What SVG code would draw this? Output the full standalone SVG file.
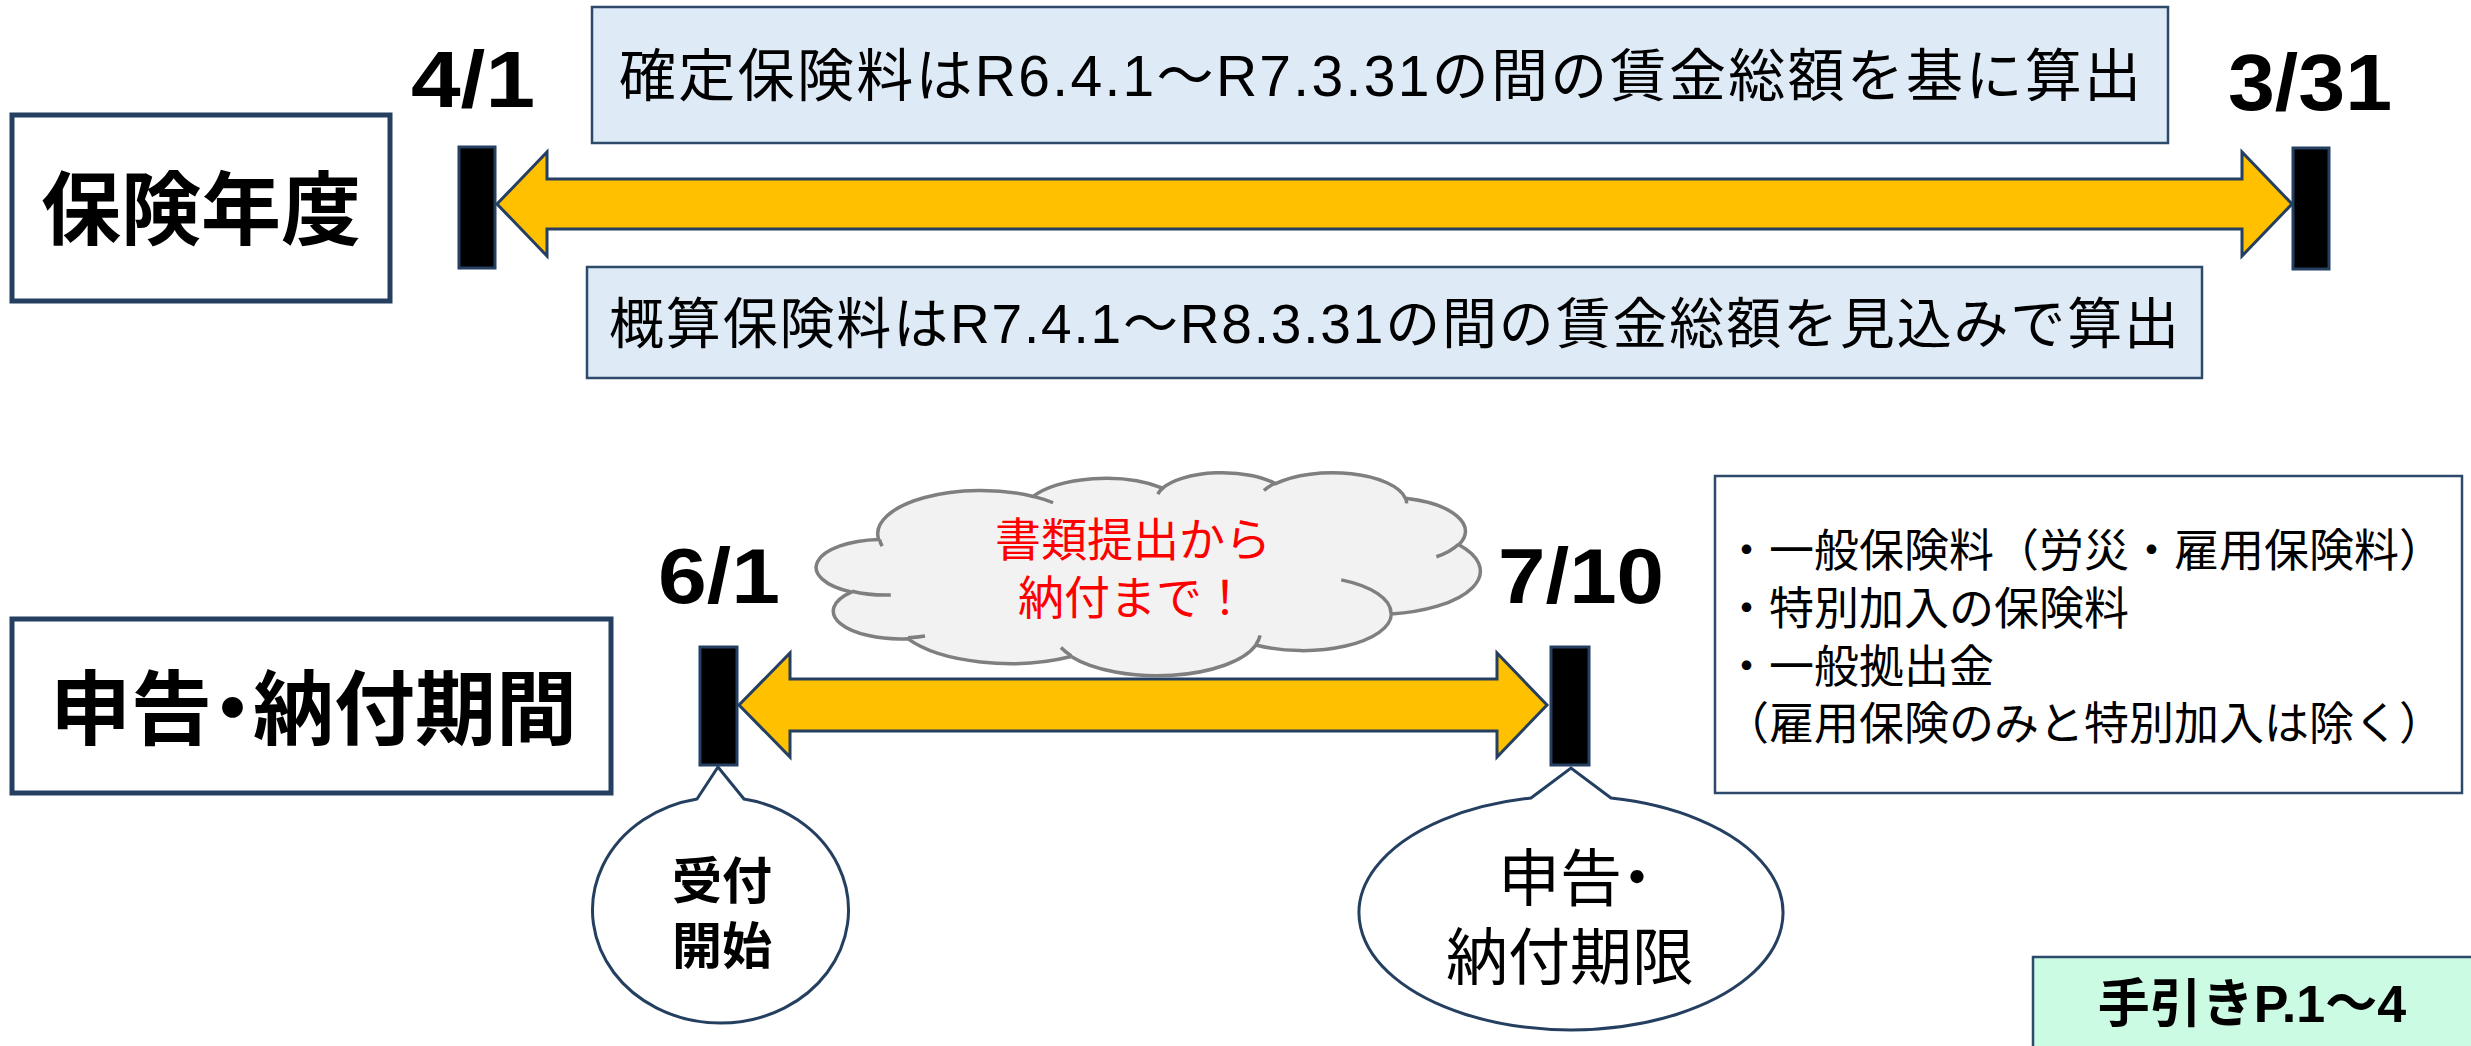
<svg xmlns="http://www.w3.org/2000/svg" width="2471" height="1046" viewBox="0 0 2471 1046">
<style>
.t{font-family:'Liberation Sans','Noto Sans CJK JP',sans-serif;fill:#000}
.title{font-family:'Noto Sans CJK JP',sans-serif;font-weight:bold;text-anchor:middle;fill:#000}
.date{font-family:'Liberation Sans','Noto Sans CJK JP',sans-serif;font-weight:bold;font-size:80px;text-anchor:middle;fill:#000}
.frame{fill:#fff;stroke:#243F60;stroke-width:5}
.note{fill:#DEEBF7;stroke:#2E4A6B;stroke-width:2.5}
.bar{fill:#000;stroke:#243F60;stroke-width:3}
.arrow{fill:#FFC000;stroke:#243F60;stroke-width:3;stroke-linejoin:miter}
.bubble{fill:#fff;stroke:#243F60;stroke-width:3}
.cloud{fill:#F2F2F2;stroke:#7F7F7F;stroke-width:3.5}
.cloudin{fill:none;stroke:#7F7F7F;stroke-width:3.5}
</style>
<rect x="0" y="0" width="2471" height="1046" fill="#fff"/>

<g id="connectors">
  <polygon class="arrow" points="497,204 547,152 547,179 2242,179 2242,152 2292,204 2242,256 2242,229 547,229 547,256"/>
  <polygon class="arrow" points="739,705 790,653 790,679 1497,679 1497,653 1547,705 1497,757 1497,731 790,731 790,757"/>
</g>

<g id="node-hokennendo">
  <rect class="frame" x="12" y="115" width="378" height="186"/>
  <text class="title" x="201" y="238" font-size="80">保険年度</text>
</g>

<g id="node-kakutei">
  <rect class="note" x="592" y="7" width="1576" height="136"/>
  <text class="t" x="619" y="96" font-size="57" textLength="1522">確定保険料はR6.4.1～R7.3.31の間の賃金総額を基に算出</text>
</g>

<g id="node-gaisan">
  <rect class="note" x="587" y="267" width="1615" height="111"/>
  <text class="t" x="609" y="343" font-size="55" textLength="1570">概算保険料はR7.4.1～R8.3.31の間の賃金総額を見込みで算出</text>
</g>

<g id="node-start-top">
  <text class="date" x="473" y="107" textLength="124" lengthAdjust="spacingAndGlyphs">4/1</text>
  <rect class="bar" x="459" y="147" width="36" height="121"/>
</g>

<g id="node-end-top">
  <text class="date" x="2310" y="110" textLength="164" lengthAdjust="spacingAndGlyphs">3/31</text>
  <rect class="bar" x="2293" y="148" width="36" height="121"/>
</g>

<g id="node-shinkoku">
  <rect class="frame" x="12" y="619" width="599" height="174"/>
  <text class="title" style="text-anchor:start" x="50 131 192 253 334 415 496" y="738" font-size="81">申告・納付期間</text>
</g>

<g id="node-cloud">
  <g transform="translate(819,472) scale(0.015301,0.004699)">
    <path class="cloud" vector-effect="non-scaling-stroke" d="M3900,14370 A6753,9190 0 0 1 14005,5202 A5333,7267 0 0 1 22458,3434 A4365,5945 0 0 1 29835,2485 A4857,6595 0 0 1 38319,5583 A5333,7273 0 0 1 41819,15466 A6775,9220 0 0 1 37405,30209 A5785,7867 0 0 1 28556,36819 A6752,9215 0 0 1 16479,39266 A7720,10543 0 0 1 5802,35472 A4360,5918 0 0 1 2111,25549 A4345,5945 0 0 1 3900,14370 Z"/>
    <path class="cloudin" vector-effect="non-scaling-stroke" d="M4693,26177 A4345,5945 0 0 1 2160,25379 M6928,34899 A4360,5918 0 0 1 5819,35281 M16478,39090 A6752,9215 0 0 1 15812,37354 M28827,34751 A6752,9215 0 0 1 28560,36660 M34129,22954 A5785,7867 0 0 1 37381,30090 M41798,15354 A5333,7273 0 0 1 40349,18031 M38324,5426 A4857,6595 0 0 1 38400,6690 M29078,3952 A4857,6595 0 0 1 29822,2337 M22141,4720 A4365,5945 0 0 1 22501,3329 M14000,5192 A6753,9190 0 0 1 15302,6543 M4127,15789 A6753,9190 0 0 1 3964,14379"/>
  </g>
  <text class="t" x="1133" y="556" font-size="46" text-anchor="middle" style="fill:#FF0000">書類提出から</text>
  <text class="t" x="1133" y="614" font-size="46" text-anchor="middle" style="fill:#FF0000">納付まで！</text>
</g>

<g id="node-start-bottom">
  <text class="date" x="719" y="603" style="font-size:78px" textLength="122" lengthAdjust="spacingAndGlyphs">6/1</text>
  <rect class="bar" x="700" y="647" width="37" height="118"/>
</g>

<g id="node-end-bottom">
  <text class="date" x="1581" y="603" style="font-size:78px" textLength="166" lengthAdjust="spacingAndGlyphs">7/10</text>
  <rect class="bar" x="1551" y="647" width="38" height="118"/>
</g>

<g id="node-uketsuke">
  <path class="bubble" d="M697,799 L718,767 L744,799 A128,113 0 1 1 697,799 Z"/>
  <text class="title" x="722" y="899" font-size="50">受付</text>
  <text class="title" x="722" y="964" font-size="50">開始</text>
</g>

<g id="node-kigen">
  <path class="bubble" d="M1531,798 L1571,768 L1611,798 A212,117 0 1 1 1531,798 Z"/>
  <text class="t" x="1498 1560 1606" y="901" font-size="62">申告・</text>
  <text class="t" x="1570" y="980" font-size="62" text-anchor="middle">納付期限</text>
</g>

<g id="node-items">
  <rect x="1715" y="476" width="747" height="317" fill="#fff" stroke="#2E4A6B" stroke-width="2.5"/>
  <text class="t" font-size="45">
    <tspan x="1724" y="567">・一般保険料（労災・雇用保険料）</tspan>
    <tspan x="1724" y="625">・特別加入の保険料</tspan>
    <tspan x="1724" y="683">・一般拠出金</tspan>
    <tspan x="1724" y="740">（雇用保険のみと特別加入は除く）</tspan>
  </text>
</g>

<g id="node-tebiki">
  <rect x="2033" y="957" width="450" height="100" fill="#CCFBE3" stroke="#2E4A6B" stroke-width="2.5"/>
  <text class="t" x="2252" y="1022" font-size="52" font-weight="bold" text-anchor="middle">手引きP.1～4</text>
</g>
</svg>
